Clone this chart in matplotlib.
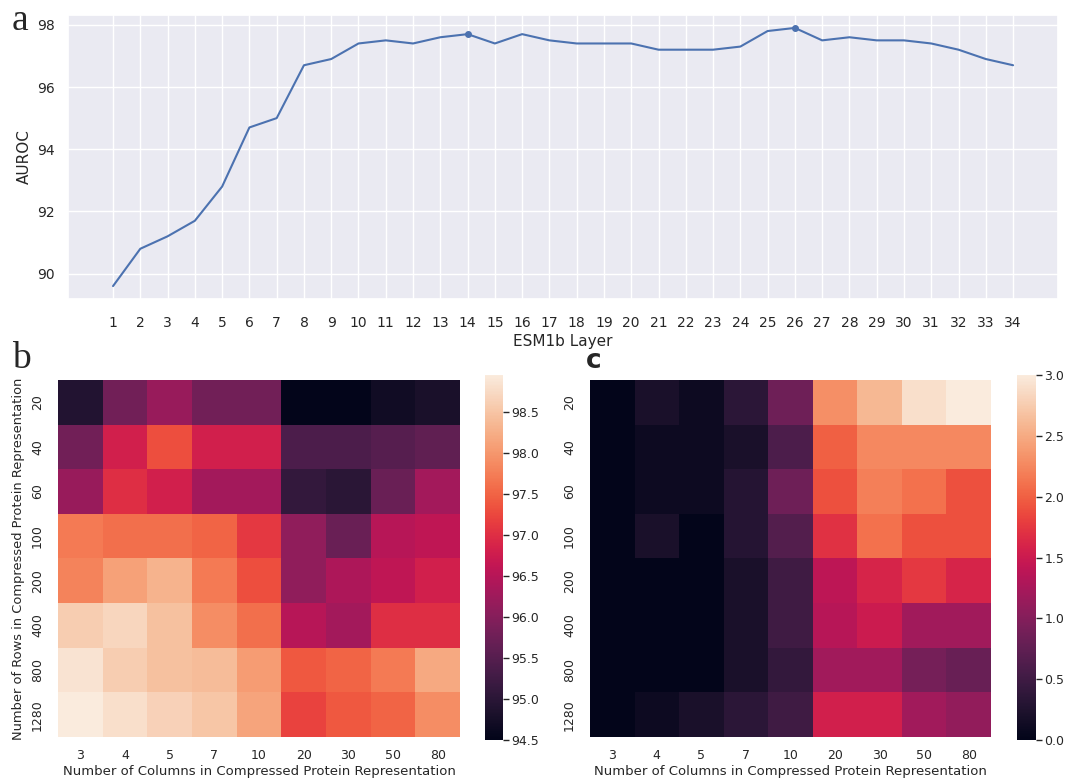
import numpy as np
import matplotlib
matplotlib.use('Agg')
import matplotlib.pyplot as plt
import seaborn as sns

# a: AUROC per ESM1b layer
layers = list(range(1, 35))
auroc = [89.6, 90.8, 91.2, 91.7, 92.8, 94.7, 95.0, 96.7, 96.9, 97.4,
         97.5, 97.4, 97.6, 97.7, 97.4, 97.7, 97.5, 97.4, 97.4, 97.4,
         97.2, 97.2, 97.2, 97.3, 97.8, 97.9, 97.5, 97.6, 97.5, 97.5,
         97.4, 97.2, 96.9, 96.7]
best_layers = [14, 26]

# b, c: compressed representation grids
n_rows = [20, 40, 60, 100, 200, 400, 800, 1280]
n_cols = [3, 4, 5, 7, 10, 20, 30, 50, 80]

auroc_grid = np.array([
    [94.9, 95.8, 96.2, 95.8, 95.8, 94.5, 94.5, 94.7, 94.8],
    [95.8, 96.8, 97.3, 96.8, 96.8, 95.4, 95.4, 95.5, 95.6],
    [96.2, 97.0, 96.8, 96.3, 96.3, 95.1, 95.0, 95.7, 96.3],
    [97.7, 97.6, 97.6, 97.5, 97.1, 96.1, 95.7, 96.5, 96.6],
    [97.8, 98.1, 98.3, 97.7, 97.3, 96.1, 96.4, 96.6, 96.8],
    [98.6, 98.7, 98.45, 97.9, 97.6, 96.5, 96.3, 97.0, 97.0],
    [98.85, 98.6, 98.45, 98.4, 98.05, 97.4, 97.5, 97.7, 98.2],
    [98.95, 98.8, 98.65, 98.5, 98.15, 97.2, 97.4, 97.5, 97.9],
])

second_grid = np.array([
    [0.0, 0.2, 0.1, 0.35, 0.85, 2.3, 2.6, 2.9, 3.0],
    [0.0, 0.1, 0.1, 0.2, 0.6, 2.0, 2.25, 2.25, 2.25],
    [0.0, 0.1, 0.1, 0.3, 0.85, 1.9, 2.2, 2.1, 1.9],
    [0.0, 0.2, 0.0, 0.3, 0.65, 1.7, 2.1, 1.9, 1.9],
    [0.0, 0.0, 0.0, 0.2, 0.5, 1.4, 1.6, 1.75, 1.6],
    [0.0, 0.0, 0.0, 0.2, 0.5, 1.35, 1.5, 1.2, 1.2],
    [0.0, 0.0, 0.0, 0.2, 0.4, 1.2, 1.2, 0.9, 0.8],
    [0.0, 0.1, 0.2, 0.35, 0.5, 1.55, 1.55, 1.2, 1.1],
])

sns.set_theme(style='darkgrid')
plt.rcParams['font.family'] = ['DejaVu Sans']

fig = plt.figure(figsize=(10.68, 7.78), dpi=100)

# top panel
ax_a = fig.add_axes([0.0637, 0.6157, 0.9270, 0.3650])
ax_a.plot(layers, auroc, color='#4c72b0', lw=1.5)
idx = [layers.index(l) for l in best_layers]
ax_a.plot([layers[i] for i in idx], [auroc[i] for i in idx], 'o',
          color='#4c72b0', ms=4)
ax_a.set_xticks(layers)
ax_a.set_yticks([90, 92, 94, 96, 98])
ax_a.tick_params(labelsize=10)
ax_a.tick_params(axis='x', pad=6)
ax_a.set_xlabel('ESM1b Layer', fontsize=11, labelpad=3)
ax_a.set_ylabel('AUROC', fontsize=11)

# heatmaps
ax_b = fig.add_axes([0.0543, 0.0527, 0.3764, 0.4589])
cax_b = fig.add_axes([0.4541, 0.0488, 0.0169, 0.4692])
ax_c = fig.add_axes([0.5524, 0.0527, 0.3755, 0.4589])
cax_c = fig.add_axes([0.9522, 0.0488, 0.0178, 0.4692])

sns.heatmap(auroc_grid, ax=ax_b, cbar_ax=cax_b, cmap='rocket',
            xticklabels=n_cols, yticklabels=n_rows)
sns.heatmap(second_grid, ax=ax_c, cbar_ax=cax_c, cmap='rocket',
            vmin=0.0, vmax=3.0, xticklabels=n_cols, yticklabels=n_rows)

for ax in (ax_b, ax_c):
    ax.tick_params(labelsize=9, length=0)
    ax.tick_params(axis='x', pad=9)
    ax.tick_params(axis='y', pad=10)
    plt.setp(ax.get_yticklabels(), rotation=90, va='center')
    ax.set_xlabel('Number of Columns in Compressed Protein Representation',
                  fontsize=9.5, labelpad=2)
ax_b.set_ylabel('Number of Rows in Compressed Protein Representation',
                fontsize=9.4)
ax_b.yaxis.set_label_coords(-0.083, 0.5)

for cax in (cax_b, cax_c):
    cax.tick_params(labelsize=9, length=4, width=1, color='.15', pad=2)
cax_b.set_yticks([94.5, 95.0, 95.5, 96.0, 96.5, 97.0, 97.5, 98.0, 98.5])
cax_b.yaxis.set_major_formatter(matplotlib.ticker.FormatStrFormatter('%.1f'))
cax_c.set_yticks([0.0, 0.5, 1.0, 1.5, 2.0, 2.5, 3.0])
cax_c.yaxis.set_major_formatter(matplotlib.ticker.FormatStrFormatter('%.1f'))

# panel letters
fig.text(12 / 1068, 1 - 30 / 778, 'a', family='Liberation Serif',
         fontsize=27, va='baseline', ha='left')
fig.text(12 / 1068, 1 - 368 / 778, 'b', family='Liberation Serif',
         fontsize=27, va='baseline', ha='left')
fig.text(586 / 1068, 1 - 368 / 778, 'c', family='DejaVu Sans',
         fontweight='bold', fontsize=19, va='baseline', ha='left')

fig.savefig('out.png', dpi=100, facecolor='white')
